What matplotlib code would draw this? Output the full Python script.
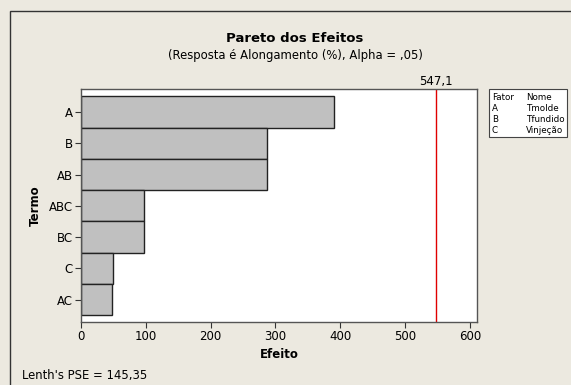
import matplotlib
matplotlib.use("Agg")
import matplotlib.pyplot as plt
from matplotlib.patches import Rectangle

# Effects (absolute standardized) for each term
terms = ["A", "B", "AB", "ABC", "BC", "C", "AC"]
effects = [390.7, 286.4, 286.4, 96.7, 96.7, 48.9, 47.3]
critical = 547.1
xticks = [0, 100, 200, 300, 400, 500, 600]
factors = ["A", "B", "C"]
names = ["Tmolde", "Tfundido", "Vinjeção"]

W, H = 571, 385
bg = "#ECE9E0"
fig = plt.figure(figsize=(W / 100, H / 100), dpi=100, facecolor=bg)
plt.rcParams["font.family"] = ["DejaVu Sans"]

# outer frame
fig.patches.append(Rectangle((10 / W, -0.05), 1.1, 1 - 11 / H + 0.05,
                             transform=fig.transFigure, fill=False,
                             edgecolor="#333333", linewidth=1.0))

ax = fig.add_axes([81 / W, 1 - 322 / H, (477 - 81) / W, (322 - 89) / H])
ax.set_facecolor("white")

ypos = list(range(len(terms)))
ax.barh(ypos, effects, height=1.0, color="#C0C0C0", edgecolor="#222222",
        linewidth=1.0)
ax.set_ylim(len(terms) - 0.5 + 0.22, -0.5 - 0.24)
ax.set_xlim(0, 611)
ax.axvline(critical, color="#E00000", linewidth=1.0)

ax.set_yticks(ypos)
ax.set_yticklabels(terms)
ax.set_xticks(xticks)
ax.tick_params(axis="both", labelsize=8.5, length=4, color="#333333",
               direction="out", pad=2)
for s in ax.spines.values():
    s.set_color("#555555")
    s.set_linewidth(1.0)

ax.set_xlabel("Efeito", fontsize=8.5, fontweight="bold", labelpad=3)
ax.set_ylabel("Termo", fontsize=8.5, fontweight="bold", labelpad=5)

ax.text(critical, 1.005, "547,1", transform=ax.get_xaxis_transform(),
        ha="center", va="bottom", fontsize=8.5)

fig.text(295 / W, 1 - 38 / H, "Pareto dos Efeitos", ha="center",
         va="center", fontsize=9.5, fontweight="bold")
fig.text(295 / W, 1 - 55 / H, "(Resposta é Alongamento (%), Alpha = ,05)",
         ha="center", va="center", fontsize=8.4)
fig.text(22 / W, 1 - 375 / H, "Lenth's PSE = 145,35", ha="left",
         va="center", fontsize=8.4)

# factor legend box
fig.patches.append(Rectangle((489 / W, 1 - 137 / H), (567 - 489) / W,
                             (137 - 89) / H, transform=fig.transFigure,
                             facecolor="white", edgecolor="#444444",
                             linewidth=0.8))
rows = [("Fator", "Nome")] + list(zip(factors, names))
for i, (f, n) in enumerate(rows):
    y = 1 - (97.5 + i * 11.1) / H
    fig.text(492 / W, y, f, fontsize=6.3, va="center", ha="left")
    fig.text(526 / W, y, n, fontsize=6.3, va="center", ha="left")

fig.savefig("out.png", dpi=100, facecolor=bg)
